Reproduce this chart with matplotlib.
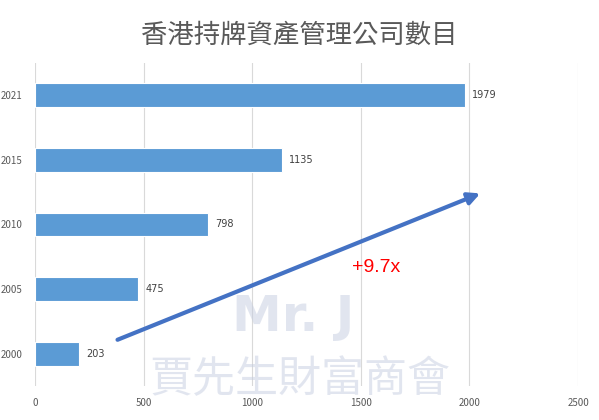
import matplotlib.pyplot as plt

plt.rcParams["font.family"] = ["Noto Sans CJK TC", "DejaVu Sans"]

years = ["2000", "2005", "2010", "2015", "2021"]
counts = [203, 475, 798, 1135, 1979]
x_ticks = [0, 500, 1000, 1500, 2000, 2500]
title = "香港持牌資產管理公司數目"
growth_label = "+9.7x"

fig = plt.figure(figsize=(5.99, 4.2), dpi=100)
ax = fig.add_axes([0.0584, 0.080, 0.9066, 0.771])

bars = ax.barh(years, counts, height=0.37, color="#5B9BD5", edgecolor="white",
               linewidth=0.8, zorder=3)
for i, v in enumerate(counts):
    ax.annotate(str(v), (v, i), xytext=(5, 0), textcoords="offset points",
                va="center", ha="left", fontsize=7, color="#404040",
                family="DejaVu Sans")

ax.set_xlim(0, 2500)
ax.set_ylim(-0.5, len(years) - 0.5)
ax.set_xticks(x_ticks)
ax.tick_params(length=0, labelsize=7, labelcolor="#595959")
ax.tick_params(axis="x", pad=8)
ax.tick_params(axis="y", pad=9)
ax.grid(axis="x", color="#d9d9d9", linewidth=0.8, zorder=0)
for s in ax.spines.values():
    s.set_visible(False)

# growth arrow
ax.annotate("", xy=(2050, 2.48), xytext=(380, 0.22),
            arrowprops=dict(arrowstyle="-|>,head_length=0.7,head_width=0.35",
                            color="#4472C4", lw=3, shrinkA=0, shrinkB=0),
            zorder=5)
ax.text(1460, 1.33, growth_label, color="#FF0000", fontsize=14,
        family="Liberation Sans", va="center", ha="left", zorder=6)

fig.text(0.5, 0.917, title, ha="center", va="center", fontsize=19,
         color="#595959")

# watermark
fig.text(0.49, 0.245, "Mr. J", ha="center", va="center", fontsize=36,
         fontweight="bold", color="#c5cde0", alpha=0.5, family="DejaVu Sans",
         zorder=10)
fig.text(0.5, 0.095, "賈先生財富商會", ha="center", va="center", fontsize=31,
         color="#c5cde0", alpha=0.5, zorder=10)

fig.savefig("out.png", dpi=100)
